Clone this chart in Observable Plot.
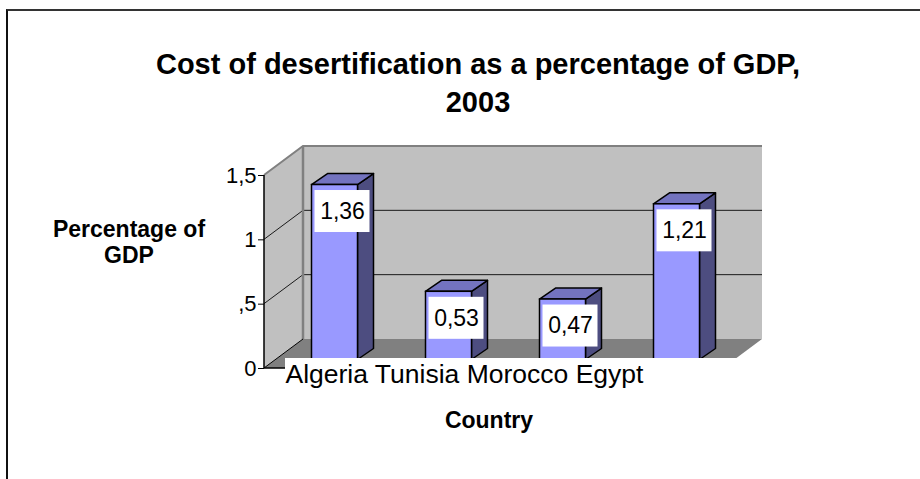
<!DOCTYPE html>
<html><head><meta charset="utf-8">
<script src="https://cdn.jsdelivr.net/npm/d3@7"></script>
<script src="https://cdn.jsdelivr.net/npm/@observablehq/plot@0.6"></script>
<style>
body{margin:0;background:#fff;font-family:"Liberation Sans",Arial,sans-serif;}
#page{position:relative;width:920px;height:479px;overflow:hidden;background:#fff;}
#chart{position:absolute;left:0;top:0;}
#frame{position:absolute;left:6px;top:9px;right:-10px;bottom:-10px;border-top:2px solid #333;border-left:2px solid #111;pointer-events:none;}
.t{position:absolute;font-weight:bold;color:#000;white-space:nowrap;text-align:center;transform:translateX(-50%);}
</style></head><body>
<div id="page">
 <div id="chart"></div>
 <div id="frame"></div>
 <div class="t" style="left:478px;top:45px;font-size:29px;line-height:38px">Cost of desertification as a percentage of GDP,<br>2003</div>
 <div class="t" style="left:129px;top:216px;font-size:23px;line-height:26px">Percentage of<br>GDP</div>
 <div class="t" style="left:489px;top:407px;font-size:23px;line-height:26px">Country</div>
</div>
<script>
const countries = ["Algeria", "Tunisia", "Morocco", "Egypt"];
const values = [1.36, 0.53, 0.47, 1.21];
const yTicks = [0, 0.5, 1, 1.5];

const data = countries.map((c, i) => ({country: c, value: values[i]}));

const WALL = {dx: 39, dy: -29};
const BAR = {ox: 11.5, oy: -8.5, dx: 16, dy: -11};
const LABEL = {dx: 7.5, dy: 26.5, w: 55, h: 42};

const loc = d3.formatLocale({decimal: ",", thousands: ".", grouping: [3], currency: ["", ""]});
const fmtVal = loc.format(".2f");
const fmtTick = d => d === 0 ? "0" : loc.format("~g")(d).replace(/^0,/, ",");
const pts = a => a.map(p => p.join(",")).join(" ");

function walls(index, scales, values, dims) {
  const {y} = scales;
  const g = d3.create("svg:g");
  const x0 = dims.marginLeft, x1 = dims.width - dims.marginRight;
  const y0 = y(0), yT = y(d3.max(yTicks));
  const {dx, dy} = WALL;
  g.append("polygon").attr("points", pts([[x0, y0], [x0, yT], [x0 + dx, yT + dy], [x0 + dx, y0 + dy]]))
    .attr("fill", "#c0c0c0");
  g.append("polygon").attr("points", pts([[x0, y0], [x1, y0], [x1 + dx, y0 + dy], [x0 + dx, y0 + dy]]))
    .attr("fill", "#808080");
  g.append("rect").attr("x", x0 + dx).attr("y", yT + dy).attr("width", x1 - x0).attr("height", y0 - yT)
    .attr("fill", "#c0c0c0");
  for (const t of yTicks.slice(1, -1)) {
    g.append("path").attr("d", `M${x0},${y(t)}L${x0 + dx},${y(t) + dy}H${x1 + dx}`)
      .attr("fill", "none").attr("stroke", "#1a1a1a").attr("stroke-width", 1);
  }
  g.append("path").attr("d", `M${x0},${yT}L${x0 + dx},${yT + dy}H${x1 + dx}`)
    .attr("fill", "none").attr("stroke", "#808080").attr("stroke-width", 2);
  g.append("path").attr("d", `M${x0 + dx},${yT + dy}V${y0 + dy}`)
    .attr("fill", "none").attr("stroke", "#808080").attr("stroke-width", 2.5);
  g.append("path").attr("d", `M${x0},${y0}L${x0 + dx},${y0 + dy}`)
    .attr("fill", "none").attr("stroke", "#000").attr("stroke-width", 1);
  g.append("path").attr("d", `M${x0},${yT}V${y0}H${x1}`)
    .attr("fill", "none").attr("stroke", "#000").attr("stroke-width", 1.5);
  return g.node();
}

function barFaces(index, scales) {
  const {x, y} = scales;
  const bw = x.bandwidth ? x.bandwidth() : 46;
  const g = d3.create("svg:g").attr("stroke", "#000").attr("stroke-width", 1.5).attr("stroke-linejoin", "round");
  for (const d of data) {
    const xl = x(d.country) + BAR.ox, xr = xl + bw, yt = y(d.value) + BAR.oy, yb = y(0) + BAR.oy;
    g.append("polygon").attr("points", pts([[xr, yt], [xr + BAR.dx, yt + BAR.dy], [xr + BAR.dx, yb + BAR.dy], [xr, yb]]))
      .attr("fill", "#4d4d80");
    g.append("polygon").attr("points", pts([[xl, yt], [xr, yt], [xr + BAR.dx, yt + BAR.dy], [xl + BAR.dx, yt + BAR.dy]]))
      .attr("fill", "#7373bf");
  }
  return g.node();
}

function labelBoxes(index, scales) {
  const {x, y} = scales;
  const bw = x.bandwidth ? x.bandwidth() : 46;
  const g = d3.create("svg:g").attr("fill", "#fff");
  for (const d of data) {
    const cx = x(d.country) + bw / 2 + BAR.ox + LABEL.dx, cy = y(d.value) + BAR.oy + LABEL.dy;
    g.append("rect").attr("x", cx - LABEL.w / 2).attr("y", cy - LABEL.h / 2).attr("width", LABEL.w).attr("height", LABEL.h);
  }
  return g.node();
}

function categoryBand(index, scales, values, dims) {
  const {y} = scales;
  const x0 = dims.marginLeft, x1 = dims.width - dims.marginRight;
  const y0 = y(0);
  const g = d3.create("svg:g");
  g.append("rect").attr("x", x0 + 21).attr("y", y0 - 10).attr("width", x1 + 17 - (x0 + 21)).attr("height", 34).attr("fill", "#fff");
  return g.node();
}

const chart = Plot.plot({
  width: 920,
  height: 479,
  marginTop: 175,
  marginBottom: 111,
  marginLeft: 264,
  marginRight: 197,
  style: {fontFamily: '"Liberation Sans", Arial, sans-serif', fontSize: "22px", background: "transparent", color: "#000"},
  x: {domain: countries, paddingInner: 0.6, paddingOuter: 0.3, axis: null},
  y: {domain: [0, 1.5], ticks: yTicks, tickFormat: fmtTick, tickSize: 6, tickPadding: 2, label: null},
  marks: [
    walls,
    barFaces,
    Plot.barY(data, {x: "country", y: "value", dx: BAR.ox, dy: BAR.oy, fill: "#9999ff", stroke: "#000", strokeWidth: 1.5}),
    labelBoxes,
    Plot.text(data, {x: "country", y: "value", text: d => fmtVal(d.value), dx: BAR.ox + LABEL.dx, dy: BAR.oy + LABEL.dy,
      fontSize: 23, fill: "#000", textAnchor: "middle", lineAnchor: "middle"}),
    categoryBand,
    Plot.text([countries.join(" ")], {text: d => d, frameAnchor: "bottom-left", dx: 21, dy: 6.5,
      fontSize: 26.5, fill: "#000", textAnchor: "start", lineAnchor: "middle"})
  ]
});
document.getElementById("chart").appendChild(chart);
</script>
</body></html>
